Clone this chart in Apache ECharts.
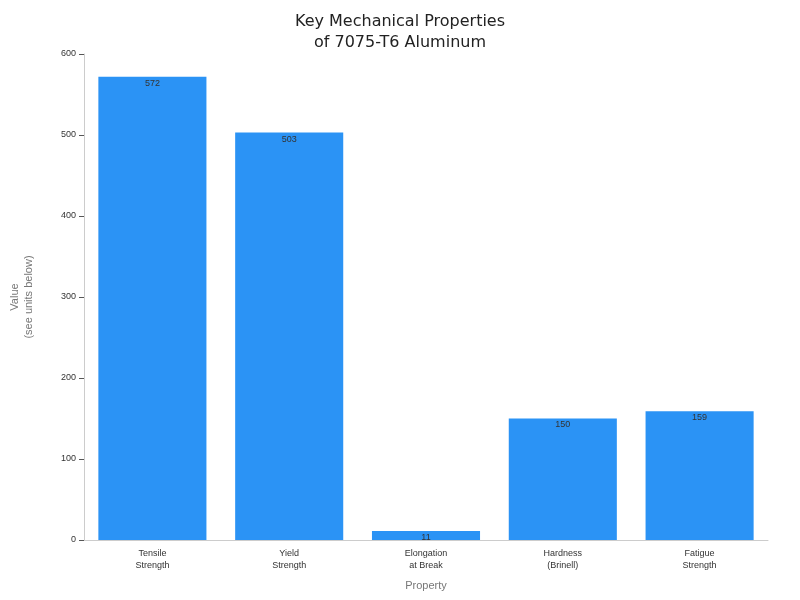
<!DOCTYPE html>
<html><head><meta charset="utf-8">
<script src="https://cdn.jsdelivr.net/npm/echarts@6/dist/echarts.min.js"></script>
<style>body{margin:0}#c{width:800px;height:600px}</style></head>
<body><div id="c"></div>
<script>
var categories = ['Tensile\nStrength', 'Yield\nStrength', 'Elongation\nat Break', 'Hardness\n(Brinell)', 'Fatigue\nStrength'];
var values = [572, 503, 11, 150, 159];

var chart = echarts.init(document.getElementById('c'));
chart.setOption({
	title: {
		text: 'Key Mechanical Properties\nof 7075-T6 Aluminum',
		left: 'center', top: 6,
		textStyle: {fontSize: 16, fontWeight: 'normal', color: '#222', lineHeight: 21, fontFamily: 'DejaVu Sans'}
	},
	grid: {left: 68, right: 32, top: 54, bottom: 60},
	xAxis: {
		type: 'category', data: categories,
		name: 'Property', nameLocation: 'middle', nameGap: 40,
		nameTextStyle: {color: '#777', fontSize: 11},
		axisLine: {lineStyle: {color: '#ccc'}},
		axisTick: {alignWithLabel: true, lineStyle: {color: '#555'}},
		axisLabel: {color: '#333', fontSize: 9, lineHeight: 12}
	},
	yAxis: {
		type: 'value', min: 0, max: 600, interval: 100,
		name: 'Value\n(see units below)', nameLocation: 'middle', nameGap: 48,
		nameTextStyle: {color: '#777', fontSize: 11, lineHeight: 14},
		axisLine: {show: true, lineStyle: {color: '#ccc'}},
		axisTick: {show: true, lineStyle: {color: '#555'}},
		axisLabel: {color: '#333', fontSize: 9},
		splitLine: {show: false}
	},
	series: [{
		type: 'bar', data: values, barWidth: '79%',
		itemStyle: {color: '#2b93f5'},
		label: {show: true, position: 'insideTop', distance: 2, color: '#333', fontSize: 9}
	}]
});
</script></body></html>
